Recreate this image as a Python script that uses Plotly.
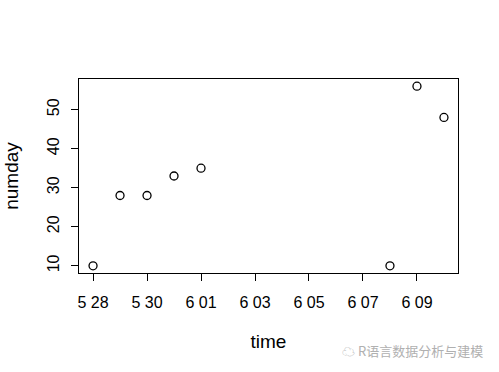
import plotly.graph_objects as go

time = ["2019-05-28", "2019-05-29", "2019-05-30", "2019-05-31", "2019-06-01",
        "2019-06-08", "2019-06-09", "2019-06-10"]
numday = [10, 28, 28, 33, 35, 10, 56, 48]
x_tickvals = ["2019-05-28", "2019-05-30", "2019-06-01", "2019-06-03",
              "2019-06-05", "2019-06-07", "2019-06-09"]
x_ticktext = ["5 28", "5 30", "6 01", "6 03", "6 05", "6 07", "6 09"]
y_tickvals = [10, 20, 30, 40, 50]

font = "Liberation Sans, Arial, sans-serif"

fig = go.Figure(go.Scatter(
    x=time, y=numday, mode="markers",
    marker=dict(symbol="circle-open", size=8, color="black", line=dict(width=1.3)),
))

fig.update_layout(
    width=499, height=372,
    margin=dict(l=79, r=41, t=79, b=99),
    paper_bgcolor="white", plot_bgcolor="white",
    showlegend=False,
    font=dict(family=font, size=16, color="black"),
    annotations=[dict(
        text="\u2601 R语言数据分析与建模", x=1.07, y=-0.4, xref="paper", yref="paper",
        xanchor="right", yanchor="middle", showarrow=False,
        font=dict(family="Noto Sans CJK SC", size=13, color="#b0b0b0"),
    )],
)
fig.update_xaxes(
    type="date",
    range=["2019-05-27 11:31:12", "2019-06-10 12:28:48"],
    tickmode="array", tickvals=x_tickvals, ticktext=x_ticktext,
    ticks="outside", ticklen=7, tickwidth=1, tickcolor="black",
    showline=True, linecolor="black", linewidth=1, mirror=True,
    showgrid=False, zeroline=False,
    ticklabelstandoff=8,
    title=dict(text="time", standoff=24),
    tickfont=dict(size=16),
)
fig.update_yaxes(
    range=[8.16, 57.84],
    tickmode="array", tickvals=y_tickvals,
    ticks="outside", ticklen=7, tickwidth=1, tickcolor="black",
    showline=True, linecolor="black", linewidth=1, mirror=True,
    showgrid=False, zeroline=False, tickangle=-90,
    ticklabelstandoff=6,
    title=dict(text="numday", standoff=20),
    tickfont=dict(size=16),
)

fig.write_html("out.html")
